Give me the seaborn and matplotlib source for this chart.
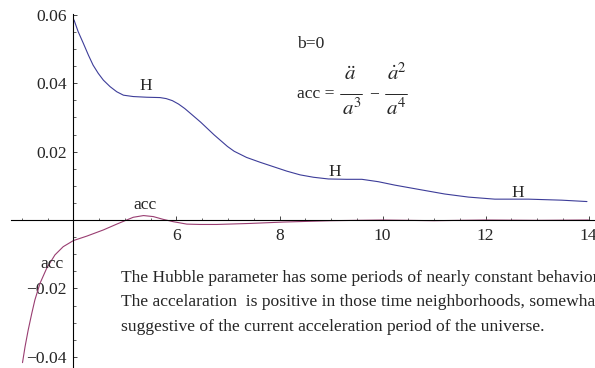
import numpy as np
import pandas as pd
import seaborn as sns
import matplotlib.pyplot as plt
from matplotlib.ticker import FixedLocator, FuncFormatter

# values
t_h = [4.01, 4.09, 4.19, 4.29, 4.38, 4.48, 4.58, 4.71, 4.84, 4.97, 5.16, 5.42, 5.68,
       5.80, 5.92, 6.04, 6.16, 6.30, 6.47, 6.73, 6.99, 7.12, 7.36, 7.62, 7.88, 8.14,
       8.40, 8.66, 8.95, 9.3, 9.6, 9.92, 10.24, 10.76, 11.21, 11.67, 12.18, 12.83,
       13.48, 13.97]
hubble = [0.0585, 0.0551, 0.0517, 0.0482, 0.0453, 0.0429, 0.0409, 0.0390, 0.0375,
          0.0365, 0.0361, 0.0359, 0.0358, 0.0355, 0.0349, 0.0339, 0.0326, 0.0308,
          0.0286, 0.0249, 0.0215, 0.0201, 0.0183, 0.0169, 0.0156, 0.0143, 0.0132,
          0.0125, 0.0120, 0.0119, 0.0119, 0.0112, 0.0102, 0.0088, 0.0076, 0.0067,
          0.0061, 0.0061, 0.0058, 0.0054]

t_acc = [3.01, 3.06, 3.12, 3.19, 3.25, 3.35, 3.48, 3.64, 3.80, 4.00, 4.26, 4.58, 4.84,
         5.0, 5.16, 5.36, 5.55, 5.74, 5.94, 6.20, 6.46, 6.78, 7.43, 8.07, 9.0, 10.0,
         11.0, 12.0, 13.0, 14.0]
acc = [-0.0417, -0.0370, -0.0322, -0.0273, -0.0234, -0.0185, -0.0141, -0.0102,
       -0.0078, -0.0060, -0.0047, -0.0029, -0.0012, -0.0002, 0.0008, 0.0013, 0.0010,
       0.0002, -0.0005, -0.0012, -0.0013, -0.0013, -0.0010, -0.0006, -0.0002, 0.0,
       -0.0002, 0.0, -0.0001, 0.0]

x_major = [6, 8, 10, 12, 14]
y_major = [-0.04, -0.02, 0.02, 0.04, 0.06]

notes = ["The Hubble parameter has some periods of nearly constant behavior.",
         "The accelaration  is positive in those time neighborhoods, somewhat",
         "suggestive of the current acceleration period of the universe."]

h_color = (0.24, 0.24, 0.6)
acc_color = (0.6, 0.24, 0.442)

sns.set_style("white")
plt.rcParams['font.family'] = ['Liberation Serif', 'DejaVu Serif']
plt.rcParams['mathtext.fontset'] = 'stix'

fig = plt.figure(figsize=(5.95, 3.68), dpi=100)
ax = fig.add_axes([0, 0, 1, 1])

df_h = pd.DataFrame({"t": t_h, "v": hubble})
df_a = pd.DataFrame({"t": t_acc, "v": acc})
sns.lineplot(data=df_h, x="t", y="v", color=h_color, lw=0.8, sort=False, ax=ax)
sns.lineplot(data=df_a, x="t", y="v", color=acc_color, lw=0.8, sort=False, ax=ax)

ax.set_xlim(2.573, 14.126)
ax.set_ylim(-0.04327, 0.06433)
ax.set_xlabel("")
ax.set_ylabel("")

for s in ["top", "right"]:
    ax.spines[s].set_visible(False)
ax.spines["left"].set_position(("data", 4))
ax.spines["bottom"].set_position(("data", 0))
ax.spines["left"].set_bounds(-0.0433, 0.0603)
ax.spines["bottom"].set_bounds(2.78, 14.126)
for s in ["left", "bottom"]:
    ax.spines[s].set_linewidth(0.8)
    ax.spines[s].set_color("black")

ax.xaxis.set_major_locator(FixedLocator(x_major))
ax.xaxis.set_minor_locator(FixedLocator(np.arange(3, 14.01, 0.5)))
ax.yaxis.set_major_locator(FixedLocator(y_major))
ax.yaxis.set_minor_locator(FixedLocator(np.arange(-0.04, 0.0601, 0.005)))
ax.xaxis.set_major_formatter(FuncFormatter(lambda v, p: f"{v:g}"))
ax.yaxis.set_major_formatter(FuncFormatter(lambda v, p: f"{v:.2f}".replace("-", "\u2212")))
fs = 12.6
ax.tick_params(which="major", direction="in", length=3.2, width=0.6, labelsize=fs)
ax.tick_params(which="minor", direction="in", length=1.8, width=0.5)
ax.tick_params(axis="x", which="major", pad=6, bottom=True)
ax.tick_params(axis="y", which="major", pad=5, left=True)
ax.tick_params(axis="both", which="minor", bottom=True, left=True)

# curve labels
ax.text(5.41, 0.0392, "H", fontsize=fs, ha="center", va="center")
ax.text(9.08, 0.0141, "H", fontsize=fs, ha="center", va="center")
ax.text(12.62, 0.0080, "H", fontsize=fs, ha="center", va="center")
ax.text(5.39, 0.0044, "acc", fontsize=fs, ha="center", va="center")
ax.text(3.58, -0.0130, "acc", fontsize=fs, ha="center", va="center")

# b=0 and the formula, laid out like the original
mfs = 15
ax.text(8.34, 0.0515, "b=0", fontsize=fs, ha="left", va="center")
ax.text(8.34, 0.0368, "acc =", fontsize=fs, ha="left", va="center")
ax.text(9.37, 0.0422, r"$\ddot{a}$", fontsize=mfs, ha="center", va="center")
ax.text(9.40, 0.0324, r"$a^3$", fontsize=mfs, ha="center", va="center")
ax.text(9.84, 0.0367, "\u2212", fontsize=fs, ha="center", va="center")
ax.text(10.27, 0.0427, r"$\dot{a}^2$", fontsize=mfs, ha="center", va="center")
ax.text(10.27, 0.0324, r"$a^4$", fontsize=mfs, ha="center", va="center")
ax.plot([9.18, 9.61], [0.0368, 0.0368], color="black", lw=0.6)
ax.plot([10.05, 10.47], [0.0368, 0.0368], color="black", lw=0.6)

for i, line in enumerate(notes):
    ax.text(4.92, -0.0170 - i * 0.0071, line, fontsize=fs, ha="left", va="center")

fig.savefig("out.png", dpi=100)
